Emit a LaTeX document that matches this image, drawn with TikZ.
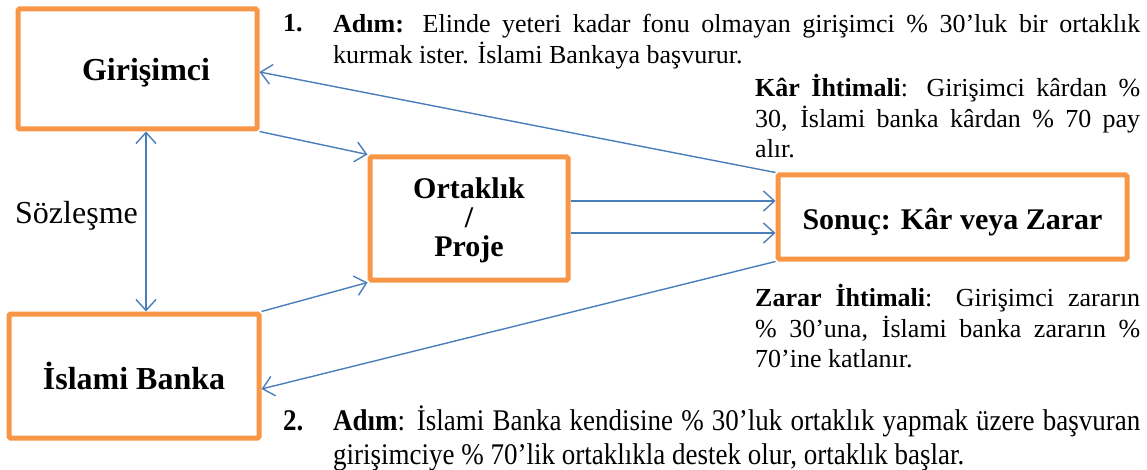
\documentclass[tikz,border=0pt]{standalone}
\usepackage{fontspec}
\setmainfont{Liberation Serif}
\newfontfamily\narrowserif[FakeStretch=0.9]{Liberation Serif}
\usetikzlibrary{arrows.meta}
\definecolor{boxorange}{HTML}{F79646}
\definecolor{linkblue}{HTML}{4A7EBB}
% lower a label without changing the size the node sees
\newcommand{\lowered}[2]{\raisebox{-#1}[\height][\depth]{#2}}

\begin{document}
\begin{tikzpicture}[x=1pt,y=-1pt,
  box/.style={draw=boxorange, line width=5pt, rounded corners=1.5pt, fill=white,
    inner sep=0pt, align=center, font=\fontsize{30}{31}\selectfont\bfseries},
  bigtext/.style={font=\fontsize{32}{33}\selectfont\bfseries},
  barb/.tip={Straight Barb[length=11pt,width=20pt,line width=1.4pt]},
  link/.style={draw=linkblue, line width=1.4pt, -barb},
  para/.style={anchor=north west, inner sep=0pt, align=justify,
    font=\fontsize{26}{30}\selectfont},
  stepnum/.style={anchor=base west, inner sep=0pt}
]
\useasboundingbox (0,0) rectangle (1147,470);

% the four actors
\node[box, bigtext, minimum width=239pt, minimum height=120pt] (gir) at (137.5,69) {\lowered{4pt}{\hspace*{17pt}Girişimci}};
\node[box, bigtext, minimum width=250pt, minimum height=124pt] (isl) at (134,376) {İslami Banka};
\node[box, minimum width=198pt, minimum height=123pt] (ort) at (469,218.5) {\lowered{3pt}{\begin{tabular}{@{}c@{}}Ortaklık\\[-2pt]/\\[-2pt]Proje\end{tabular}}};
\node[box, minimum width=349pt, minimum height=84pt] (son) at (952.5,217) {\lowered{5pt}{Sonuç: Kâr veya Zarar}};

% connectors
\draw[link] (son.north west) -- ([yshift=-3pt]gir.east);
\draw[link] (gir.south east) -- (ort.north west);
\draw[link, barb-barb] ([xshift=8.5pt]gir.south) -- ([xshift=12pt]isl.north);
\draw[link] (isl.north east) -- (ort.south west);
\draw[link] ([yshift=17.5pt]ort.east) -- ([yshift=17.5pt]ort.east -| son.west);
\draw[link] ([yshift=-14.5pt]ort.east) -- ([yshift=-14.5pt]ort.east -| son.west);
\draw[link] (son.south west) -- ([yshift=-13pt]isl.east);

% side label
\node[anchor=west, inner sep=0pt, font=\fontsize{32}{33}\selectfont] (soz) at (15,216) {Sözleşme};

% step 1
\node[stepnum, font=\fontsize{26}{30}\selectfont\bfseries] (n1) at (283,32) {1.};
\node[para, text width=807pt] (p1) at (333,11) {\strut\textbf{Adım:} Elinde yeteri kadar fonu olmayan girişimci \% 30’luk bir ortaklık\linebreak kurmak ister. İslami Bankaya başvurur.};

% outcomes
\node[para, text width=385pt] (kar) at (755,74) {\strut\textbf{Kâr İhtimali}: Girişimci kârdan \%\linebreak 30, İslami banka kârdan \% 70 pay\linebreak alır.};
\node[para, text width=385pt] (zar) at (755,284) {\strut\textbf{Zarar İhtimali}: Girişimci zararın\linebreak \% 30’una, İslami banka zararın \%\linebreak 70’ine katlanır.};

% step 2
\node[stepnum, font=\fontsize{30}{34}\selectfont\narrowserif\bfseries] (n2) at (283,430) {2.};
\node[para, text width=807pt, font=\fontsize{30}{34}\selectfont\narrowserif] (p2) at (333,406) {\strut\textbf{Adım}: İslami Banka kendisine \% 30’luk ortaklık yapmak üzere başvuran\linebreak girişimciye \% 70’lik ortaklıkla destek olur, ortaklık başlar.};
\end{tikzpicture}
\end{document}
